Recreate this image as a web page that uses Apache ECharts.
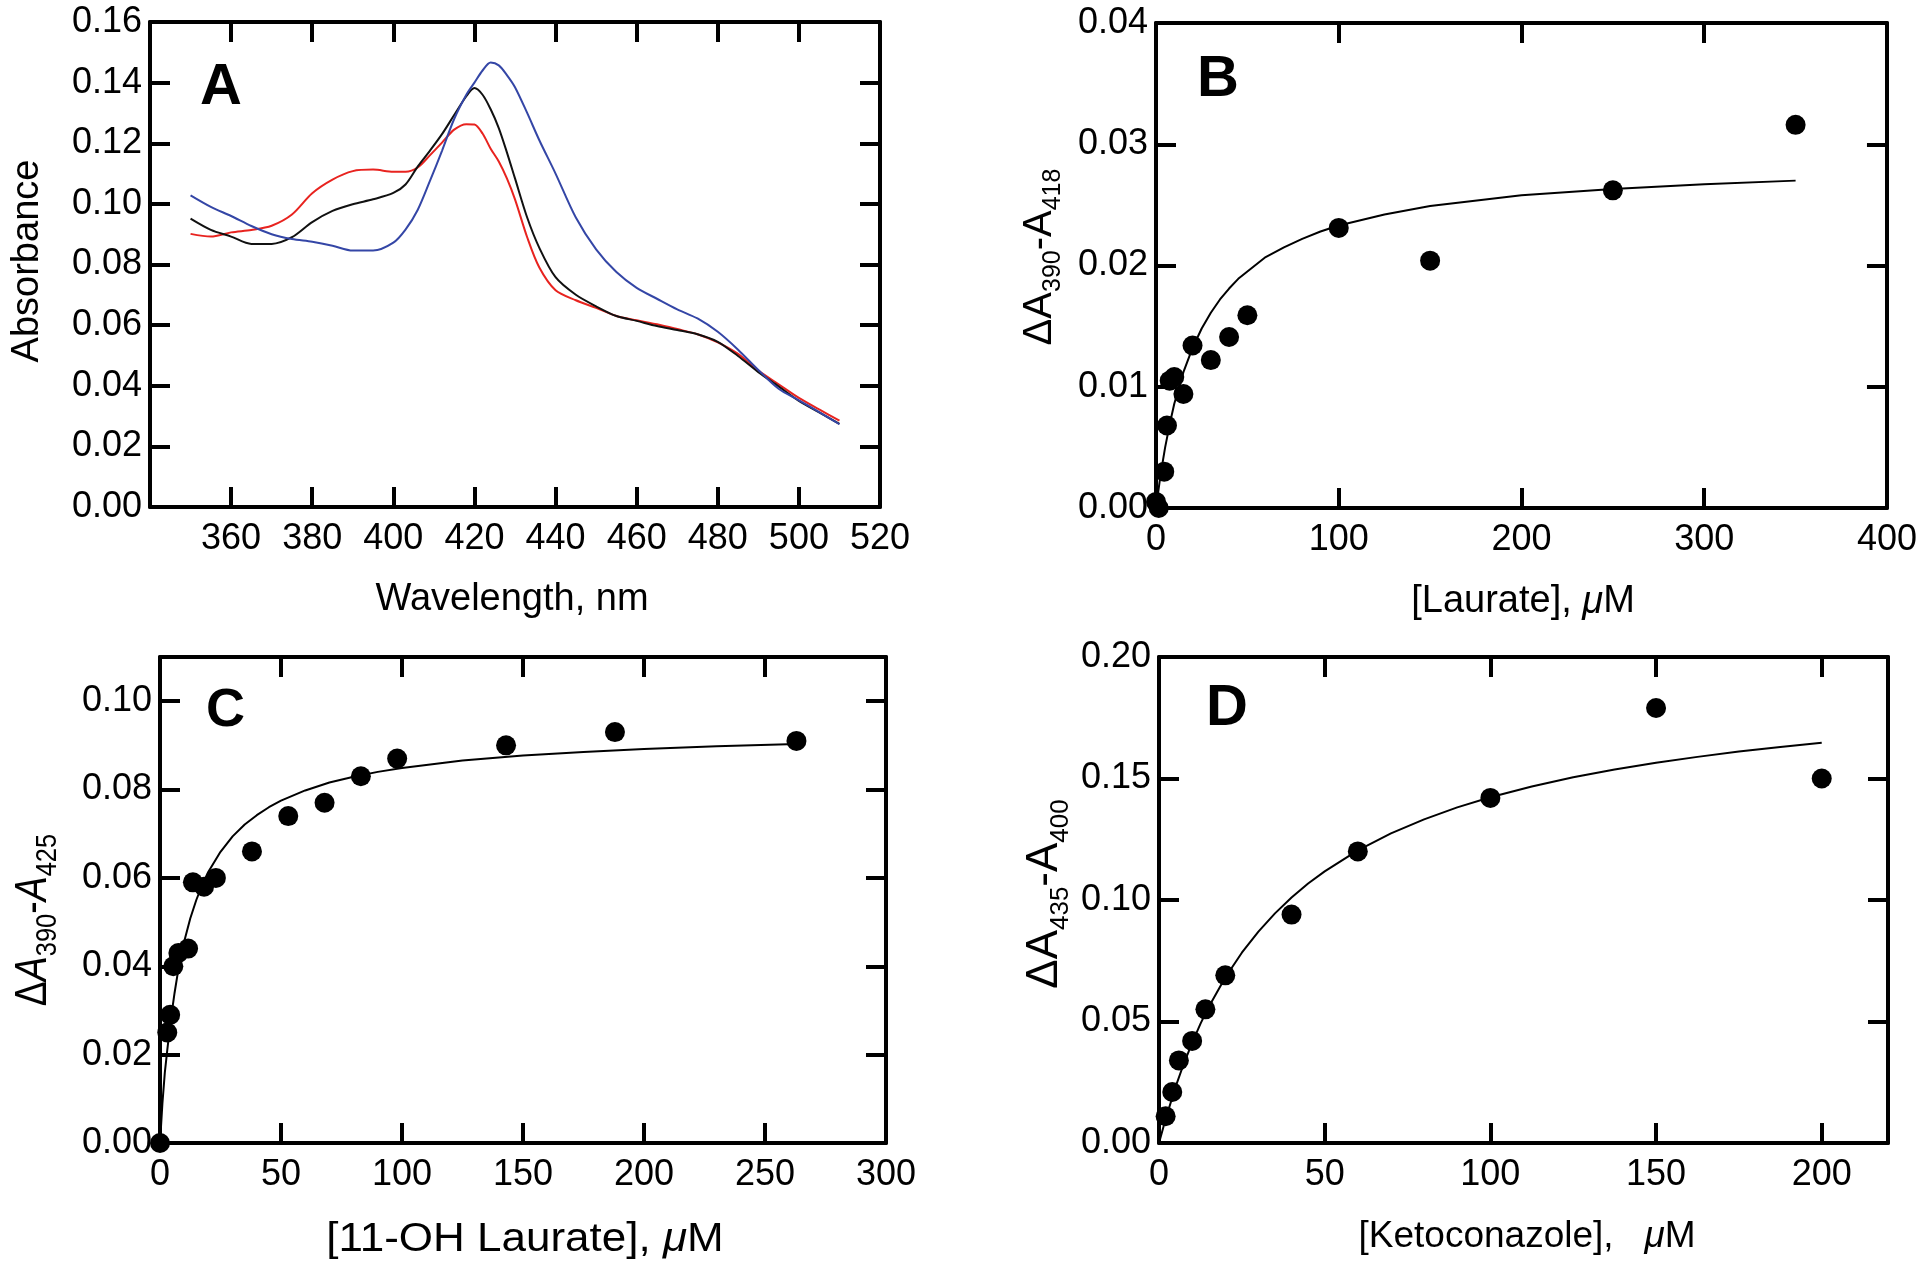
<!DOCTYPE html>
<html>
<head>
<meta charset="utf-8">
<script src="https://cdn.jsdelivr.net/npm/echarts@6/dist/echarts.min.js"></script>
<style>
  html, body { margin: 0; background: #fff; }
  #chart { width: 1920px; height: 1273px; }
</style>
</head>
<body>
<div id="chart"></div>
<script>
// A: absorbance spectra
const wavelength = [350, 355, 360, 365, 370, 375, 380, 385, 390, 395, 400, 403, 406, 409, 412, 415, 418, 420, 422, 424,
  426, 428, 430, 433, 436, 440, 445, 450, 455, 460, 465, 470, 475, 480, 485, 490, 495, 500, 505, 510];
const absBlue = [0.1028, 0.0990, 0.0960, 0.0927, 0.0900, 0.0884, 0.0875, 0.0862, 0.0846, 0.0846, 0.0872, 0.0915, 0.0980,
  0.1075, 0.1175, 0.1280, 0.1360, 0.1400, 0.1440, 0.1466, 0.1457, 0.1425, 0.1385, 0.1300, 0.1210, 0.1100, 0.0955,
  0.0850, 0.0775, 0.0723, 0.0687, 0.0652, 0.0622, 0.0578, 0.0519, 0.0452, 0.0390, 0.0352, 0.0313, 0.0273];
const absRed = [0.0901, 0.0892, 0.0906, 0.0914, 0.0928, 0.0965, 0.1035, 0.1080, 0.1108, 0.1113, 0.1106, 0.1106, 0.1120,
  0.1160, 0.1202, 0.1245, 0.1263, 0.1262, 0.1232, 0.1182, 0.1140, 0.1084, 0.1015, 0.0890, 0.0790, 0.0715, 0.0682,
  0.0657, 0.0630, 0.0616, 0.0603, 0.0587, 0.0570, 0.0543, 0.0505, 0.0450, 0.0405, 0.0360, 0.0322, 0.0285];
const absBlack = [0.0951, 0.0914, 0.0892, 0.0868, 0.0868, 0.0890, 0.0940, 0.0977, 0.0999, 0.1015, 0.1036, 0.1064, 0.1123,
  0.1175, 0.1230, 0.1293, 0.1355, 0.1382, 0.1360, 0.1312, 0.1250, 0.1170, 0.1084, 0.0955, 0.0855, 0.0758, 0.0700,
  0.0662, 0.0630, 0.0614, 0.0597, 0.0584, 0.0570, 0.0545, 0.0498, 0.0445, 0.0398, 0.0350, 0.0312, 0.0274];

// B: laurate titration
const laurateConc = [0, 1.5, 4.5, 6, 7.5, 10, 15, 20, 30, 40, 50, 100, 150, 250, 350];
const laurateDA = [0.0005, 0, 0.0030, 0.0068, 0.0105, 0.0108, 0.0094, 0.0134, 0.0122, 0.0141, 0.0159, 0.0231, 0.0204,
  0.0262, 0.0316];
const laurateFitX = [0, 2, 3, 5, 7.5, 10, 15, 20, 25, 30, 35, 40, 45, 50, 60, 70, 80, 90, 100, 125, 150, 200, 250, 300, 350];
const laurateFitY = [0, 0.0022, 0.0032, 0.0050, 0.0069, 0.0086, 0.0112, 0.0132, 0.0148, 0.0161, 0.0172, 0.0181, 0.0189,
  0.0195, 0.0207, 0.0215, 0.0222, 0.0228, 0.0233, 0.0242, 0.0249, 0.0258, 0.0263, 0.0267, 0.0270];

// C: 11-OH laurate titration
const ohLaurateConc = [0, 3, 4.2, 5.5, 7.6, 11.6, 13.6, 18.2, 23.1, 38, 53, 68, 83, 98, 143, 188, 263];
const ohLaurateDA = [0, 0.025, 0.029, 0.040, 0.043, 0.044, 0.059, 0.058, 0.060, 0.066, 0.074, 0.077, 0.083, 0.087,
  0.090, 0.093, 0.091];
const ohLaurateFitX = [0, 1, 2, 3, 4, 5, 6, 7.5, 10, 12.5, 15, 17.5, 20, 25, 30, 35, 40, 45, 50, 60, 70, 80, 90, 100,
  125, 150, 175, 200, 230, 263];
const ohLaurateFitY = [0, 0.009, 0.016, 0.021, 0.0257, 0.030, 0.0339, 0.039, 0.0456, 0.0508, 0.0550, 0.0585, 0.0614,
  0.0659, 0.0694, 0.0721, 0.0742, 0.0760, 0.0775, 0.0798, 0.0816, 0.0829, 0.0840, 0.0849, 0.0866, 0.0877, 0.0885,
  0.0892, 0.0898, 0.0903];

// D: ketoconazole titration
const ketoConc = [2, 4, 6, 10, 14, 20, 40, 60, 100, 150, 200];
const ketoDA = [0.011, 0.021, 0.034, 0.042, 0.055, 0.069, 0.094, 0.120, 0.142, 0.179, 0.150];
const ketoFitX = [0, 2, 5, 7.5, 10, 12.5, 15, 20, 25, 30, 35, 40, 45, 50, 60, 70, 80, 90, 100, 112.5, 125, 137.5, 150,
  162.5, 175, 187.5, 200];
const ketoFitY = [0, 0.0099, 0.0231, 0.0327, 0.0412, 0.0490, 0.0560, 0.0681, 0.0783, 0.0870, 0.0945, 0.1010, 0.1068,
  0.1118, 0.1204, 0.1274, 0.1332, 0.1381, 0.1423, 0.1467, 0.1505, 0.1537, 0.1565, 0.1589, 0.1611, 0.1630, 0.1647];

const FONT = '"Liberation Sans", Arial, sans-serif';
const zip = (xs, ys) => xs.map((x, k) => [x, ys[k]]);

const grids = [
  { left: 150, top: 22, width: 730, height: 485 },
  { left: 1156, top: 23, width: 731, height: 485 },
  { left: 160, top: 657, width: 726, height: 486 },
  { left: 1159, top: 657, width: 729, height: 486 }
];

const lineCommon = {
  axisLine: { show: true, onZero: false, lineStyle: { color: '#000', width: 4 } },
  axisTick: { show: true, inside: true, length: 20, lineStyle: { color: '#000', width: 4 } },
  splitLine: { show: false }
};
const labelCommon = { color: '#000', fontFamily: FONT, fontSize: 36 };

function xPair(i, min, max, interval, fmt) {
  return [
    Object.assign({ gridIndex: i, type: 'value', min, max, interval, position: 'bottom',
      axisLabel: Object.assign({ margin: 14, formatter: fmt }, labelCommon) }, lineCommon),
    Object.assign({ gridIndex: i, type: 'value', min, max, interval, position: 'top',
      axisLabel: { show: false } }, lineCommon)
  ];
}
function yPair(i, min, max, interval, fmt) {
  return [
    Object.assign({ gridIndex: i, type: 'value', min, max, interval, position: 'left',
      axisLabel: Object.assign({ margin: 8, formatter: fmt }, labelCommon) }, lineCommon),
    Object.assign({ gridIndex: i, type: 'value', min, max, interval, position: 'right',
      axisLabel: { show: false } }, lineCommon)
  ];
}

const fix2 = v => v.toFixed(2);

const xAxis = [].concat(
  xPair(0, 340, 520, 20, v => v === 340 ? '' : String(v)),
  xPair(1, 0, 400, 100, v => String(v)),
  xPair(2, 0, 300, 50, v => String(v)),
  xPair(3, 0, 220, 50, v => v > 210 ? '' : String(v))
);
const yAxis = [].concat(
  yPair(0, 0, 0.16, 0.02, fix2),
  yPair(1, 0, 0.04, 0.01, fix2),
  yPair(2, 0, 0.11, 0.02, v => v > 0.105 ? '' : fix2(v)),
  yPair(3, 0, 0.2, 0.05, fix2)
);

function spectrum(ys, color) {
  return { type: 'line', xAxisIndex: 0, yAxisIndex: 0, data: zip(wavelength, ys), showSymbol: false,
    smooth: 0.3, lineStyle: { color, width: 2 }, silent: true, animation: false };
}
function dots(i, xs, ys) {
  return { type: 'scatter', xAxisIndex: 2 * i, yAxisIndex: 2 * i, data: zip(xs, ys), symbol: 'circle',
    symbolSize: 20, itemStyle: { color: '#000', opacity: 1 }, clip: false, animation: false };
}
function fit(i, xs, ys) {
  return { type: 'line', xAxisIndex: 2 * i, yAxisIndex: 2 * i, data: zip(xs, ys), showSymbol: false,
    smooth: false, lineStyle: { color: '#000', width: 2 }, animation: false };
}

function label(x, y, text, size) {
  return { type: 'text', x, y, style: { text, fontFamily: FONT, fontSize: size, fontWeight: 'bold', fill: '#000',
    textAlign: 'left', verticalAlign: 'middle', textVerticalAlign: 'middle' } };
}
function title(x, y, text, size, extra) {
  return Object.assign({ type: 'text', x, y, style: Object.assign({ text, fontFamily: FONT, fontSize: size,
    fill: '#000', textAlign: 'center', verticalAlign: 'middle', textVerticalAlign: 'middle' }, extra && extra.style) },
    extra && extra.props);
}
function subRich(main, sub) {
  return {
    m: { fontFamily: FONT, fontSize: main, lineHeight: main * 1.3, fill: '#000' },
    mi: { fontFamily: FONT, fontSize: main, lineHeight: main * 1.3, fontStyle: 'italic', fill: '#000' },
    s: { fontFamily: FONT, fontSize: sub, lineHeight: sub, verticalAlign: 'bottom', fill: '#000' },
    i: { fontFamily: FONT, fontSize: main, fontStyle: 'italic', fill: '#000' }
  };
}

const graphic = [
  label(200, 88, 'A', 58),
  label(1197, 80, 'B', 58),
  label(206, 711, 'C', 54),
  label(1206, 709, 'D', 58),
  title(512, 600, 'Wavelength, nm', 38),
  title(28, 261, 'Absorbance', 38, { props: { rotation: Math.PI / 2 } }),
  title(1523, 602, '{m|[Laurate], }{i|μ}{m|M}', 38, { style: { rich: subRich(38, 25) } }),
  title(1040, 257, '{m|ΔA}{s|390}{m|-A}{s|418}', 40, { props: { rotation: Math.PI / 2 },
    style: { rich: subRich(40, 25) } }),
  title(525, 1240, '{m|[11-OH Laurate], }{i|μ}{m|M}', 40, { props: { scaleX: 1.1 },
    style: { rich: subRich(40, 25) } }),
  title(34, 920, '{m|Δ}{mi|A}{s|390}{m|-}{mi|A}{s|425}', 44, { props: { rotation: Math.PI / 2, scaleX: 0.85 },
    style: { rich: subRich(44, 30) } }),
  title(1527, 1237, '{m|[Ketoconazole],   }{i|μ}{m|M}', 37, { style: { rich: subRich(37, 25) } }),
  title(1045, 894, '{m|ΔA}{s|435}{m|-A}{s|400}', 44, { props: { rotation: Math.PI / 2 },
    style: { rich: subRich(44, 26) } })
];

const chart = echarts.init(document.getElementById('chart'), null, { renderer: 'canvas' });
chart.setOption({
  backgroundColor: '#fff',
  animation: false,
  grid: grids,
  xAxis,
  yAxis,
  series: [
    spectrum(absRed, '#e8231f'),
    spectrum(absBlack, '#111111'),
    spectrum(absBlue, '#3446a6'),
    fit(1, laurateFitX, laurateFitY),
    dots(1, laurateConc, laurateDA),
    fit(2, ohLaurateFitX, ohLaurateFitY),
    dots(2, ohLaurateConc, ohLaurateDA),
    fit(3, ketoFitX, ketoFitY),
    dots(3, ketoConc, ketoDA)
  ],
  graphic
});
</script>
</body>
</html>
